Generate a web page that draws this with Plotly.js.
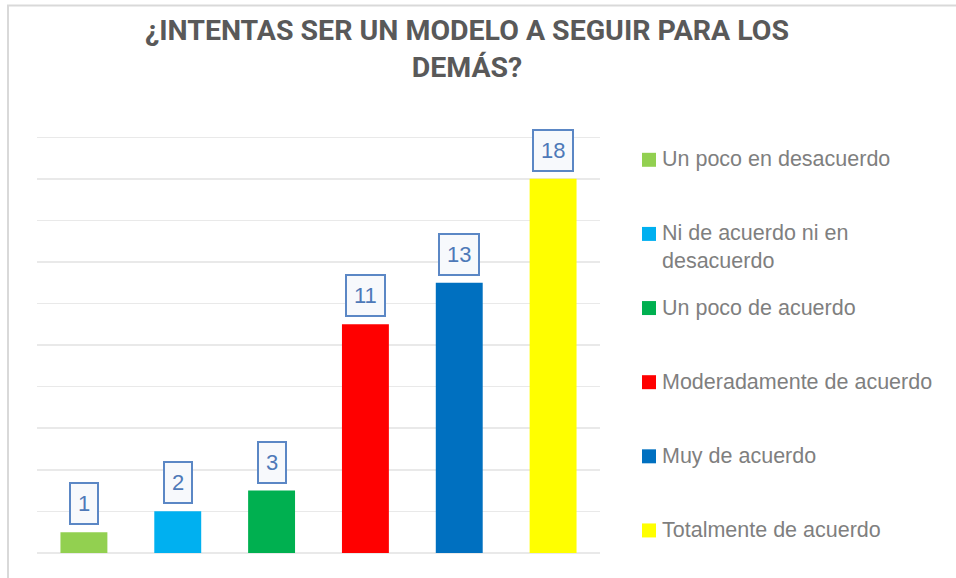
<!DOCTYPE html>
<html>
<head>
<meta charset="utf-8">
<script src="https://cdn.plot.ly/plotly-3.0.1.min.js"></script>
<style>
  html, body { margin: 0; padding: 0; background: #ffffff; overflow: hidden; }
  #chart { width: 956px; height: 578px; }
</style>
</head>
<body>
<div id="chart"></div>
<script>
// ---- data ----
const categories = [
  "Un poco en desacuerdo",
  "Ni de acuerdo ni en desacuerdo",
  "Un poco de acuerdo",
  "Moderadamente de acuerdo",
  "Muy de acuerdo",
  "Totalmente de acuerdo"
];
const legendLabels = [
  "Un poco en desacuerdo",
  "Ni de acuerdo ni en<br>desacuerdo",
  "Un poco de acuerdo",
  "Moderadamente de acuerdo",
  "Muy de acuerdo",
  "Totalmente de acuerdo"
];
const values = [1, 2, 3, 11, 13, 18];
const barColors = ["#92d050", "#00b0f0", "#00b050", "#ff0000", "#0070c0", "#ffff00"];
const titleText = "¿INTENTAS SER UN MODELO A SEGUIR PARA LOS<br>DEMÁS?";

// ---- geometry (pixels) ----
const W = 956, H = 578;
const yMin = -0.1, yMax = 20.4;          // small padding so edge gridlines (0 and 20) are drawn
const unitPx = 416 / 20;                  // 20 units span 137..553 px
const plotL = 37, plotR = 600;
const plotT = 137 - (yMax - 20) * unitPx;
const plotB = 553 - yMin * unitPx;
const pw = plotR - plotL, ph = plotB - plotT;
const px2x = p => (p - plotL) / pw;
const py2y = p => (plotB - p) / ph;

const trace = {
  type: "bar",
  x: categories,
  y: values,
  width: 0.5,
  marker: { color: barColors, line: { width: 0 } },
  hoverinfo: "x+y",
  showlegend: false
};

const annotations = [];
const shapes = [];

// data labels in boxes
categories.forEach((c, i) => {
  annotations.push({
    x: c, y: values[i], xref: "x", yref: "y",
    text: String(values[i]),
    showarrow: false,
    yanchor: "bottom", xanchor: "center",
    yshift: 7,
    font: { family: "Liberation Sans, Arial, sans-serif", size: 22, color: "#4e79b8" },
    bgcolor: "#f7f9fc",
    bordercolor: "#5b87c5",
    borderwidth: 2,
    borderpad: 7
  });
});

// manual legend
const legTop = 159.5, legStep = 74.2, legFont = 21.5;
legendLabels.forEach((lab, i) => {
  const cy = legTop + i * legStep;
  shapes.push({
    type: "rect", xref: "paper", yref: "paper",
    x0: px2x(642), x1: px2x(656),
    y0: py2y(cy + 7), y1: py2y(cy - 7),
    fillcolor: barColors[i], line: { width: 0 }
  });
  annotations.push({
    xref: "paper", yref: "paper",
    x: px2x(660), y: py2y(cy - 14.5),
    xanchor: "left", yanchor: "top",
    align: "left",
    text: lab, showarrow: false,
    font: { family: "Liberation Sans, Arial, sans-serif", size: legFont, color: "#7f7f7f" }
  });
});

// outer chart border
shapes.push({
  type: "rect", xref: "paper", yref: "paper",
  x0: px2x(8), x1: px2x(1000),
  y0: py2y(620), y1: py2y(5),
  line: { color: "#d9d9d9", width: 2 },
  fillcolor: "rgba(0,0,0,0)"
});

const layout = {
  width: W, height: H,
  paper_bgcolor: "#ffffff",
  plot_bgcolor: "#ffffff",
  margin: { l: plotL, r: W - plotR, t: plotT, b: H - plotB, pad: 0 },
  title: {
    text: titleText,
    x: 467 / W, xref: "container", xanchor: "center",
    y: 1 - 40 / H, yref: "container", yanchor: "top",
    font: { family: "Roboto, Liberation Sans, Arial, sans-serif", size: 28.5, color: "#595959", weight: "bold" }
  },
  xaxis: {
    type: "category",
    range: [-0.5, 5.5],
    showgrid: false, showticklabels: false, showline: false, zeroline: false, ticks: ""
  },
  yaxis: {
    range: [yMin, yMax], dtick: 2, tick0: 0,
    showgrid: true, gridcolor: "#e9e9e9", gridwidth: 1.5,
    showticklabels: false, showline: false, zeroline: false, ticks: ""
  },
  bargap: 0.5,
  showlegend: false,
  annotations: annotations,
  shapes: shapes
};

Plotly.newPlot("chart", [trace], layout, { displayModeBar: false, staticPlot: true });
</script>
</body>
</html>
